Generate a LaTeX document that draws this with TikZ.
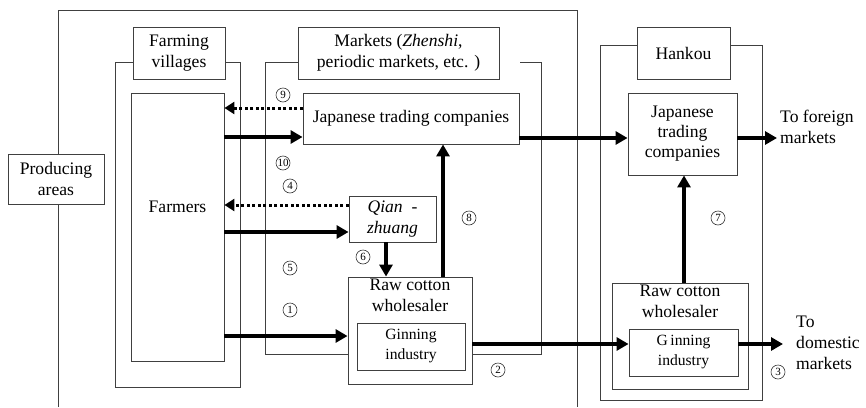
\documentclass[tikz,border=0pt]{standalone}
\usepackage{fontspec}
\setmainfont{Liberation Serif}
\usetikzlibrary{arrows.meta}

\begin{document}
\begin{tikzpicture}[x=1pt,y=-1pt,
		box/.style={draw=black!75,line width=0.9,fill=white,inner sep=0pt,align=center},
		frame/.style={draw=black!75,line width=0.9},
		flow/.style={line width=3.5,-{Triangle[length=12,width=13]}},
		back/.style={line width=3,dash pattern=on 3pt off 2.5pt,-{Triangle[length=10,width=12]}},
		num/.style={circle,draw=black!80,line width=0.6,minimum size=14,inner sep=0pt,font=\fontsize{11}{11}\selectfont},
		font=\fontsize{17.6}{21}\selectfont]
		\useasboundingbox (0,0) rectangle (866,407);
		% frames
		\draw[frame] (58,407) -- (58,10) -- (577,10) -- (577,407);
		\draw[frame] (115,62) rectangle (240,387);
		\draw[frame] (520,62) -| (541,354) -| (265,62) -- (298,62);
		\draw[frame] (600,45) rectangle (762,400);
		% boxes
		\node[box,minimum width=96,minimum height=50] (prod) at (56,179) {Producing\\areas};
		\node[box,minimum width=92,minimum height=52] (villages) at (179,53) {Farming\\villages};
		\node[box,minimum width=93,minimum height=268,label={[yshift=20pt]center:Farmers}] (farmers) at (177.5,227) {};
		\node[box,minimum width=201,minimum height=52] (markets) at (398.5,53) {Markets (\textit{Zhenshi},\\periodic markets, etc. )};
		\node[box,minimum width=216,minimum height=51] (jtcM) at (411,118.5) {Japanese trading companies};
		\node[box,minimum width=87,minimum height=46] (qian) at (392.5,219) {\textit{Qian\enspace-}\\\textit{zhuang}};
		\node[box,minimum width=124,minimum height=107,label={[anchor=north,inner sep=2pt,align=center]north:Raw cotton\\wholesaler}] (rawM) at (410,330.5) {};
		\node[box,minimum width=108,minimum height=47,font=\fontsize{15.6}{20}\selectfont] (ginM) at (411,346.5) {Ginning\\industry};
		\node[box,minimum width=93,minimum height=52] (hankou) at (683.5,53) {Hankou};
		\node[box,minimum width=109,minimum height=82,font=\fontsize{17.6}{20}\selectfont] (jtcH) at (682.5,134) {Japanese\\trading\\companies};
		\node[box,minimum width=136,minimum height=106,label={[anchor=north,inner sep=2pt,align=center]north:Raw cotton\\wholesaler}] (rawH) at (680,336) {};
		\node[box,minimum width=109,minimum height=47,font=\fontsize{15.6}{20}\selectfont] (ginH) at (683.5,352.5) {G\,inning\\industry};
		\node[anchor=west,align=left,inner sep=0pt] (foreign) at (780,127) {To foreign\\markets};
		\node[anchor=west,align=left,inner sep=0pt] (domestic) at (796,343) {To\\domestic\\markets};
		% flows
		\draw[back] (jtcM.west |- 0,108) -- (farmers.east |- 0,108);
		\draw[flow] (farmers.east |- 0,137) -- (jtcM.west |- 0,137);
		\draw[back] (qian.west |- 0,205) -- (farmers.east |- 0,205);
		\draw[flow] (farmers.east |- 0,232) -- (qian.west |- 0,232);
		\draw[flow] (qian.south -| 386,0) -- (rawM.north -| 386,0);
		\draw[flow] (farmers.east |- 0,336) -- (rawM.west |- 0,336);
		\draw[flow] (rawM.north -| 443,0) -- (jtcM.south -| 443,0);
		\draw[flow] (jtcM.east |- 0,138) -- (jtcH.west |- 0,138);
		\draw[flow] (jtcH.east |- 0,138) -- ([xshift=-3pt]foreign.west |- 0,138);
		\draw[flow] (rawM.east |- 0,344) -- (ginH.west |- 0,344);
		\draw[flow] (rawH.north -| 684,0) -- (jtcH.south -| 684,0);
		\draw[flow] (ginH.east |- 0,344) -- ([xshift=-13pt]domestic.west |- 0,344);
		% numbers
		\node[num] (n9) at (283,95) {9};
		\node[num] (n10) at (283,163) {10};
		\node[num] (n4) at (290,186) {4};
		\node[num] (n5) at (290,268) {5};
		\node[num] (n6) at (363,257) {6};
		\node[num] (n1) at (290,310) {1};
		\node[num] (n8) at (469,218) {8};
		\node[num] (n2) at (498,370) {2};
		\node[num] (n7) at (718,218) {7};
		\node[num] (n3) at (778,372) {3};
\end{tikzpicture}
\end{document}
